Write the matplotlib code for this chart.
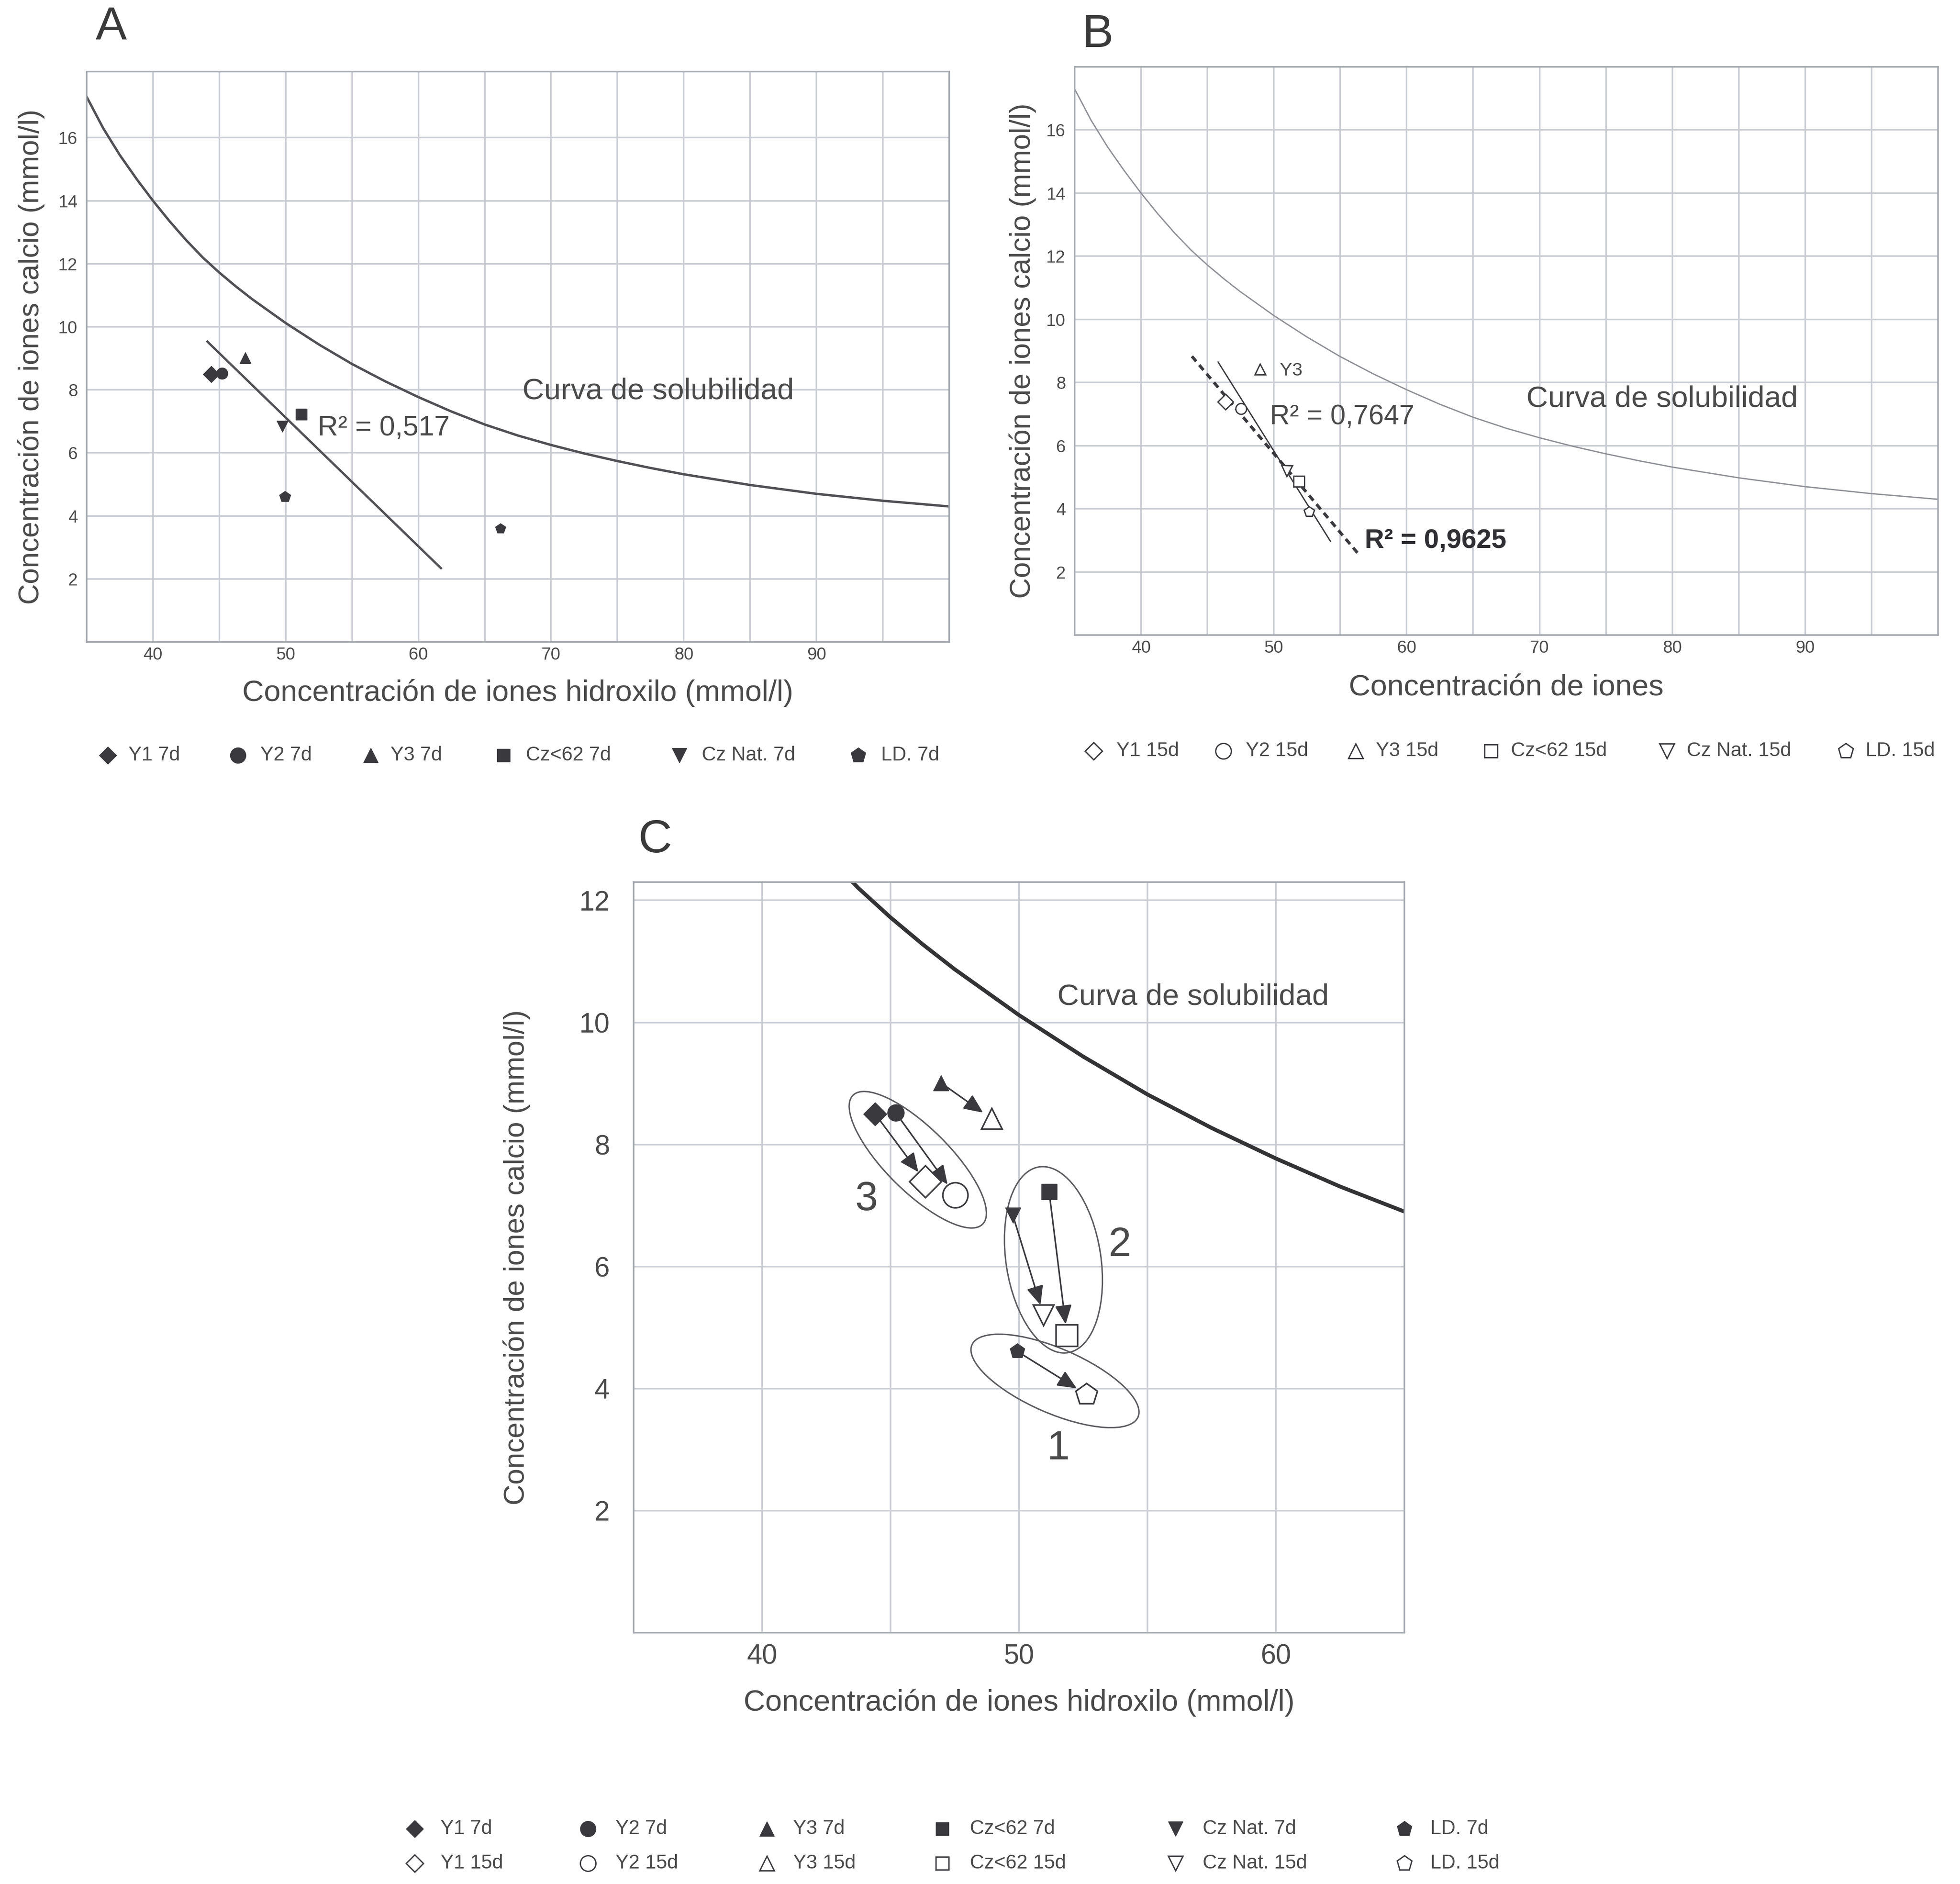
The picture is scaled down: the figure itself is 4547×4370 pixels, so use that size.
import matplotlib.pyplot as plt
from matplotlib.patches import Ellipse
from matplotlib.transforms import ScaledTranslation

plt.rcParams['font.family'] = ['Liberation Sans', 'DejaVu Sans']

# ---- data ----
names = ["Y1", "Y2", "Y3", "Cz<62", "Cz Nat.", "LD."]
oh_7d = [44.4, 45.2, 46.96, 51.17, 49.76, 49.93]
ca_7d = [8.50, 8.52, 9.01, 7.23, 6.84, 4.61]
oh_15d = [46.36, 47.52, 48.94, 51.87, 50.96, 52.64]
ca_15d = [7.39, 7.17, 8.42, 4.87, 5.20, 3.90]
oh_extra_a = [66.2]          # stray point in panel A
ca_extra_a = [3.6]

curve_oh = [35, 36.25, 37.5, 38.75, 40, 41.25, 42.5, 43.75, 45, 46.25, 47.5, 50, 52.5, 55,
            57.5, 60, 62.5, 65, 67.5, 70, 72.5, 75, 77.5, 80, 85, 90, 95, 100]
curve_ca = [17.3, 16.3, 15.45, 14.7, 14.0, 13.35, 12.75, 12.2, 11.72, 11.28, 10.87, 10.12,
            9.44, 8.82, 8.27, 7.77, 7.31, 6.9, 6.55, 6.25, 5.98, 5.74, 5.52, 5.32, 4.98,
            4.7, 4.48, 4.3]

reg_a_oh, reg_a_ca = [44.1, 61.7], [9.53, 2.34]
reg_b1_oh, reg_b1_ca = [45.8, 54.26], [8.65, 2.97]
reg_b2_oh, reg_b2_ca = [43.83, 56.4], [8.83, 2.55]

groups = ["1", "2", "3"]
group_oh = [51.4, 51.34, 46.06]
group_ca = [4.125, 6.11, 7.75]

markers = ["D", "o", "^", "s", "v", "p"]
INK = "#3a3a3e"
TXT = "#4a4a4a"
GRID = "#c9ccd3"

W, H, DPI = 4547, 4370, 100
fig = plt.figure(figsize=(W / DPI, H / DPI), dpi=DPI)


def box(l, t, r, b):
    return [l / W, 1 - b / H, (r - l) / W, (b - t) / H]


boxA = (201, 166, 2202, 1489)
boxB = (2493, 155, 4496, 1473)
boxC = (1470, 2046, 3258, 3787)
axA = fig.add_axes(box(*boxA))
axB = fig.add_axes(box(*boxB))
axC = fig.add_axes(box(*boxC))


def frame(ax, xlim, ylim, xt, xl, yt, tfs, ypad, xpad):
    ax.set_xlim(xlim)
    ax.set_ylim(ylim)
    ax.set_xticks(xt, xl)
    ax.set_yticks(yt, [str(v) for v in yt])
    ax.grid(True, color=GRID, lw=2.6)
    ax.set_axisbelow(True)
    ax.tick_params(length=0, labelsize=tfs, labelcolor=TXT)
    ax.tick_params(axis="y", pad=ypad)
    ax.tick_params(axis="x", pad=xpad)
    for s in ax.spines.values():
        s.set_color("#a3a7ae")
        s.set_linewidth(2.6)


xt_ab = list(range(40, 100, 5))
xl_ab = [str(v) if v % 10 == 0 else "" for v in xt_ab]
frame(axA, (35, 100), (0, 18.1), xt_ab, xl_ab, list(range(2, 17, 2)), 29, 15, 8)
frame(axB, (35, 100), (0, 18.0), xt_ab, xl_ab, list(range(2, 17, 2)), 29, 15, 8)
xt_c = list(range(40, 65, 5))
xl_c = [str(v) if v % 10 == 0 else "" for v in xt_c]
frame(axC, (35, 65), (0, 12.3), xt_c, xl_c, list(range(2, 13, 2)), 46, 40, 18)


def labels(ax, bx, xlab, ylab, xly, ylx):
    ax.set_xlabel(xlab, fontsize=50, color=TXT, va="center")
    ax.set_ylabel(ylab, fontsize=48, color=TXT, va="center")
    ax.xaxis.set_label_coords(0.5, (bx[3] - xly) / (bx[3] - bx[1]))
    ax.yaxis.set_label_coords((ylx - bx[0]) / (bx[2] - bx[0]), 0.5)


ylab = "Concentración de iones calcio (mmol/l)"
labels(axA, boxA, "Concentración de iones hidroxilo (mmol/l)", ylab, 1607, 72)
labels(axB, boxB, "Concentración de iones", ylab, 1595, 2372)
labels(axC, boxC, "Concentración de iones hidroxilo (mmol/l)", ylab, 3950, 1198)

# ---- panel A ----
axA.plot(curve_oh, curve_ca, color="#505055", lw=4)
axA.plot(reg_a_oh, reg_a_ca, color="#505055", lw=3.8)
for i, m in enumerate(markers):
    axA.plot(oh_7d[i], ca_7d[i], marker=m, ms=19, color=INK, ls="none")
axA.plot(oh_extra_a, ca_extra_a, marker="p", ms=18, color=INK, ls="none")
axA.text(67.85, 7.96, "Curva de solubilidad", fontsize=50, color=TXT, va="center")
axA.text(52.4, 6.78, "R² = 0,517", fontsize=47, color=TXT, va="center")

# ---- panel B ----
axB.plot(curve_oh, curve_ca, color="#8e9096", lw=2.2)
axB.plot(reg_b1_oh, reg_b1_ca, color=INK, lw=2.2)
axB.plot(reg_b2_oh, reg_b2_ca, color=INK, lw=5, ls=(0, (2.2, 1.6)))
for i, m in enumerate(markers):
    axB.plot(oh_15d[i], ca_15d[i], marker=m, ms=18, mfc="white", mec=INK, mew=2.2, ls="none")
axB.text(oh_15d[2] + 1.5, ca_15d[2] - 0.05, "Y3", fontsize=31, color=TXT, va="center")
axB.text(69.0, 7.48, "Curva de solubilidad", fontsize=50, color=TXT, va="center")
axB.text(49.7, 6.9, "R² = 0,7647", fontsize=46, color=TXT, va="center")
axB.text(56.85, 2.98, "R² = 0,9625", fontsize=45, color="#303034", va="center",
         fontweight="bold")

# ---- panel C ----
axC.plot(curve_oh, curve_ca, color="#333336", lw=6.5)
ms_open = [38, 42, 34, 36, 34, 38]
for i, m in enumerate(markers):
    axC.annotate("", xy=(oh_15d[i], ca_15d[i]), xytext=(oh_7d[i], ca_7d[i]),
                 arrowprops=dict(arrowstyle="-|>,head_length=0.9,head_width=0.4",
                                 color=INK, lw=2.6, shrinkA=0,
                                 shrinkB=ms_open[i] / 2 + 1, mutation_scale=30))
for i, m in enumerate(markers):
    axC.plot(oh_7d[i], ca_7d[i], marker=m, ms=26 if m not in "Do" else 28,
             color=INK, ls="none", zorder=4)
    axC.plot(oh_15d[i], ca_15d[i], marker=m, ms=ms_open[i], mfc="white",
             mec=INK, mew=2.6, ls="none", zorder=4)

ell_w = [4.2, 4.36, 4.24]
ell_h = [1.5, 2.2, 1.48]
ell_ang = [-23.5, 98.8, -44.8]
for k in range(3):
    tr = fig.dpi_scale_trans + ScaledTranslation(group_oh[k], group_ca[k], axC.transData)
    axC.add_patch(Ellipse((0, 0), ell_w[k], ell_h[k], angle=ell_ang[k], transform=tr,
                          fill=False, ec="#5c5c60", lw=2.4, zorder=3))
num_oh = [51.53, 53.92, 44.05]
num_ca = [3.01, 6.35, 7.10]
for k in range(3):
    axC.text(num_oh[k], num_ca[k], groups[k], fontsize=68, color=TXT,
             ha="center", va="center")
axC.text(51.5, 10.42, "Curva de solubilidad", fontsize=50, color=TXT, va="center")

# ---- panel letters ----
fig.text(258 / W, 1 - 64 / H, "A", fontsize=78, color="#3a3a3a", ha="center", va="center")
fig.text(2546 / W, 1 - 81 / H, "B", fontsize=78, color="#3a3a3a", ha="center", va="center")
fig.text(1520 / W, 1 - 1949 / H, "C", fontsize=78, color="#3a3a3a", ha="center", va="center")

# ---- legends (pixel overlay) ----
lg = fig.add_axes([0, 0, 1, 1])
lg.set_xlim(0, W)
lg.set_ylim(H, 0)
lg.axis("off")
leg_ms = [20, 26, 24, 22, 24, 26]


def entry(xm, xt, y, m, label, filled, ms):
    if filled:
        lg.plot([xm], [y], marker=m, ms=ms, color=INK, ls="none")
    else:
        lg.plot([xm], [y], marker=m, ms=ms, mfc="white", mec=INK, mew=2.2, ls="none")
    lg.text(xt, y, label, fontsize=33, color=TXT, va="center")


a_mx = [250, 552, 860, 1168, 1576, 1991]
a_tx = [298, 604, 906, 1220, 1628, 2044]
b_mx = [2537, 2838, 3145, 3459, 3867, 4282]
b_tx = [2590, 2890, 3192, 3505, 3913, 4328]
c_mx = [962, 1364, 1779, 2186, 2727, 3258]
c_tx = [1022, 1428, 1840, 2250, 2790, 3318]
for i, m in enumerate(markers):
    entry(a_mx[i], a_tx[i], 1752, m, names[i] + " 7d", True, leg_ms[i])
    entry(b_mx[i], b_tx[i], 1742, m, names[i] + " 15d", False, leg_ms[i])
    entry(c_mx[i], c_tx[i], 4242, m, names[i] + " 7d", True, leg_ms[i])
    entry(c_mx[i], c_tx[i], 4322, m, names[i] + " 15d", False, leg_ms[i])

fig.savefig("out.png", dpi=DPI, facecolor="white")
